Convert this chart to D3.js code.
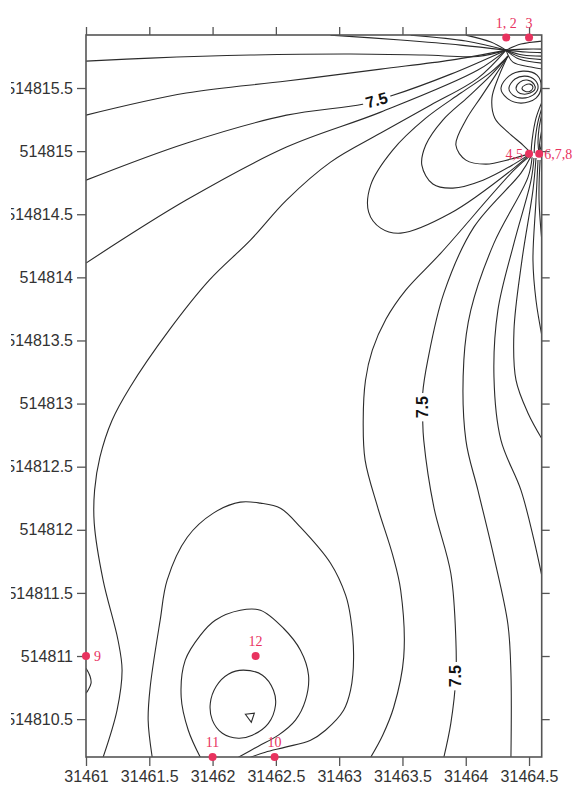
<!DOCTYPE html>
<html><head><meta charset="utf-8">
<script src="https://cdn.jsdelivr.net/npm/d3@7"></script>
<style>html,body{margin:0;background:#fff;}svg{display:block;}</style>
</head><body>
<svg id="chart" width="574" height="785"></svg>
<script>
// ---------- data ----------
const xTicks = [31461, 31461.5, 31462, 31462.5, 31463, 31463.5, 31464, 31464.5];
const yTicks = [514810.5, 514811, 514811.5, 514812, 514812.5, 514813, 514813.5, 514814, 514814.5, 514815, 514815.5];
const xDomain = [31461, 31464.6];
const yDomain = [514810.2, 514815.92];

const wellX = [31464.32, 31464.50, 31464.50, 31464.58, 31461.00, 31462.49, 31462.00, 31462.34];
const wellY = [514815.90, 514815.90, 514814.98, 514814.98, 514811.00, 514810.20, 514810.20, 514811.00];
const wellLabel = ['1, 2', '3', '4,5', '6,7,8', '9', '10', '11', '12'];

const contourLabelX = [31463.296, 31463.660, 31463.922];
const contourLabelY = [514815.404, 514812.971, 514810.840];
const contourLabelText = ['7.5', '7.5', '7.5'];

// open contour lines, north-west fan (towards wells 1,2)
const linesNorthWest = [
 [[31461.000,514815.713],[31461.507,514815.737],[31462.299,514815.761],[31463.090,514815.769],[31463.668,514815.761],[31464.096,514815.750],[31464.318,514815.800]],
 [[31461.000,514815.285],[31461.792,514815.460],[31462.584,514815.555],[31463.328,514815.650],[31463.882,514815.721],[31464.318,514815.800]],
 [[31461.000,514814.770],[31461.792,514815.063],[31462.584,514815.285],[31463.185,514815.372],[31463.407,514815.436],[31463.882,514815.610],[31464.318,514815.800]],
 [[31461.000,514814.113],[31461.792,514814.612],[31462.584,514815.032],[31463.328,514815.309],[31464.096,514815.642],[31464.318,514815.800]],
 [[31461.135,514810.198],[31461.245,514810.570],[31461.285,514810.888],[31461.253,514811.125],[31461.135,514811.601],[31461.065,514812.053],[31461.068,514812.314],[31461.110,514812.575],[31461.206,514812.868],[31461.348,514813.130],[31461.657,514813.582],[31461.974,514813.978],[31462.299,514814.295],[31462.584,514814.612],[31462.932,514814.913],[31463.328,514815.143],[31463.724,514815.365],[31464.096,514815.578],[31464.318,514815.800]],
 [[31462.932,514815.919],[31463.486,514815.880],[31463.961,514815.840],[31464.318,514815.800]],
 [[31463.565,514815.919],[31464.001,514815.872],[31464.318,514815.800]],
 [[31464.001,514815.919],[31464.199,514815.864],[31464.318,514815.800]]
];
// open lines, north-east corner
const linesNorthEast = [
 [[31464.318,514815.800],[31464.436,514815.848],[31464.608,514815.872]],
 [[31464.318,514815.800],[31464.476,514815.808],[31464.608,514815.808]],
 [[31464.318,514815.800],[31464.476,514815.785],[31464.608,514815.780]],
 [[31464.318,514815.800],[31464.452,514815.761],[31464.608,514815.753]],
 [[31464.318,514815.800],[31464.436,514815.745],[31464.608,514815.725]],
 [[31464.318,514815.800],[31464.421,514815.729],[31464.608,514815.697]],
 [[31464.318,514815.800],[31464.373,514815.705],[31464.516,514815.666],[31464.608,514815.650]],
 [[31464.608,514815.404],[31464.555,514815.261],[31464.524,514815.087],[31464.516,514814.984]],
 [[31464.608,514815.360],[31464.570,514815.230],[31464.547,514815.080],[31464.540,514814.984]],
 [[31464.608,514815.325],[31464.579,514815.182],[31464.571,514815.063],[31464.579,514814.984]],
 [[31464.608,514815.206],[31464.587,514815.087],[31464.579,514814.984]],
 [[31464.608,514815.120],[31464.595,514815.040],[31464.579,514814.984]]
];
// loops joining wells 1,2 and wells 4,5
const loopsEast = [
 [[31464.333,514815.753],[31464.262,514815.594],[31464.207,514815.420],[31464.230,514815.261],[31464.333,514815.150],[31464.452,514815.048],[31464.516,514814.984]],
 [[31464.333,514815.753],[31464.230,514815.594],[31464.120,514815.428],[31464.001,514815.246],[31463.922,514815.048],[31464.001,514814.929],[31464.159,514814.897],[31464.357,514814.937],[31464.516,514814.984]],
 [[31464.333,514815.753],[31464.199,514815.602],[31464.017,514815.428],[31463.819,514815.246],[31463.684,514815.048],[31463.653,514814.889],[31463.740,514814.739],[31463.898,514814.707],[31464.136,514814.770],[31464.381,514814.897],[31464.516,514814.984]],
 [[31464.333,514815.753],[31464.199,514815.626],[31463.961,514815.460],[31463.684,514815.261],[31463.423,514815.008],[31463.249,514814.731],[31463.233,514814.517],[31463.328,514814.390],[31463.486,514814.350],[31463.882,514814.509],[31464.381,514814.865],[31464.516,514814.984]]
];
// fan south of wells 4-8
const linesSouthEast = [
 [[31464.516,514814.968],[31464.381,514814.849],[31463.803,514814.192],[31463.526,514813.899],[31463.370,514813.670],[31463.262,514813.423],[31463.208,514813.185],[31463.190,514812.868],[31463.205,514812.552],[31463.304,514812.179],[31463.423,514811.799],[31463.486,514811.521],[31463.510,514810.991],[31463.431,514810.594],[31463.344,514810.373],[31463.249,514810.198]],
 [[31464.516,514814.960],[31464.436,514814.826],[31464.064,514814.398],[31463.827,514813.875],[31463.700,514813.344],[31463.660,514813.082],[31463.660,514812.868],[31463.668,514812.710],[31463.748,514812.179],[31463.882,514811.656],[31463.922,514811.125],[31463.922,514810.832],[31463.882,514810.467],[31463.827,514810.198]],
 [[31464.524,514814.952],[31464.492,514814.794],[31464.223,514814.271],[31464.040,514813.740],[31463.985,514813.344],[31464.001,514812.710],[31464.096,514812.314],[31464.223,514811.783],[31464.333,514811.252],[31464.357,514810.864],[31464.357,514810.198]],
 [[31464.539,514814.945],[31464.516,514814.770],[31464.381,514814.271],[31464.254,514813.740],[31464.223,514813.209],[31464.278,514812.710],[31464.436,514812.314],[31464.539,514811.918],[31464.608,514811.601]],
 [[31464.555,514814.945],[31464.531,514814.691],[31464.444,514814.136],[31464.381,514813.582],[31464.397,514813.185],[31464.492,514812.924],[31464.608,514812.710]],
 [[31464.571,514814.929],[31464.555,514814.612],[31464.531,514814.136],[31464.555,514813.819],[31464.608,514813.502]],
 [[31464.587,514814.929],[31464.579,514814.612],[31464.608,514814.216]]
];
// loops around wells 10-12 and the bump at well 9
const linesSouthWest = [
 [[31461.523,514810.198],[31461.491,514810.492],[31461.507,514810.753],[31461.586,514811.284],[31461.641,514811.601],[31461.800,514811.941],[31462.006,514812.132],[31462.219,514812.219],[31462.378,514812.211],[31462.536,514812.171],[31462.694,514812.021],[31462.932,514811.735],[31463.051,514811.482],[31463.090,514811.307],[31463.114,514810.991],[31463.090,514810.729],[31463.035,514810.570],[31462.892,514810.412],[31462.774,514810.333],[31462.576,514810.278],[31462.417,514810.238],[31462.299,514810.198]],
 [[31461.903,514810.198],[31461.808,514810.412],[31461.752,514810.673],[31461.784,514810.967],[31461.903,514811.164],[31462.021,514811.284],[31462.219,514811.363],[31462.378,514811.363],[31462.560,514811.220],[31462.694,514811.046],[31462.758,514810.848],[31462.734,514810.650],[31462.655,514810.492],[31462.520,514810.373],[31462.362,514810.286],[31462.204,514810.198]],
 [[31461.000,514810.903],[31461.032,514810.840],[31461.040,514810.785],[31461.016,514810.729],[31461.000,514810.705]]
];
// closed contours
const closedSmooth = [
 [[31464.278,514815.499],[31464.341,514815.594],[31464.452,514815.634],[31464.563,514815.602],[31464.595,514815.507],[31464.555,514815.420],[31464.436,514815.380],[31464.326,514815.420]],
 [[31464.341,514815.499],[31464.389,514815.571],[31464.468,514815.594],[31464.547,514815.563],[31464.571,514815.499],[31464.531,514815.444],[31464.444,514815.420],[31464.373,514815.444]],
 [[31464.397,514815.499],[31464.428,514815.547],[31464.484,514815.563],[31464.539,514815.531],[31464.547,514815.491],[31464.508,514815.460],[31464.452,514815.452],[31464.413,514815.468]],
 [[31464.444,514815.499],[31464.468,514815.523],[31464.508,514815.531],[31464.531,514815.507],[31464.508,514815.475],[31464.468,514815.475]],
 [[31462.243,514810.888],[31462.394,514810.848],[31462.481,514810.729],[31462.497,514810.610],[31462.441,514810.467],[31462.314,514810.373],[31462.204,514810.349],[31462.077,514810.388],[31461.998,514810.492],[31461.982,514810.626],[31462.029,514810.761],[31462.124,514810.856]]
];
const closedSharp = [
 [[31462.259,514810.539],[31462.330,514810.547],[31462.306,514810.475]]
];

// ---------- styling ----------
const wellLabelPlace = ['top','top','left','right','right','top','top','top'];
const contourLabelAngle = [-16, -90, -90];
const RED = '#e8335f';

// ---------- drawing ----------
const svg = d3.select('#chart');
const L = 86, R = 541.7, T = 35, B = 757;
const x = d3.scaleLinear().domain(xDomain).range([L, R]);
const y = d3.scaleLinear().domain(yDomain).range([B, T]);

const defs = svg.append('defs');
defs.append('clipPath').attr('id','plot')
  .append('rect').attr('x',L).attr('y',T).attr('width',R-L).attr('height',B-T);
defs.append('clipPath').attr('id','leftcut')
  .append('rect').attr('x',11).attr('y',0).attr('width',574).attr('height',785);

const cont = svg.append('g').attr('clip-path','url(#plot)')
  .attr('fill','none').attr('stroke','#2b2b2b').attr('stroke-width',1.1);

const openLine = d3.line().x(d=>x(d[0])).y(d=>y(d[1])).curve(d3.curveCatmullRom.alpha(0.5));
const closedLine = d3.line().x(d=>x(d[0])).y(d=>y(d[1])).curve(d3.curveCatmullRomClosed.alpha(0.5));
const sharpLine = d3.line().x(d=>x(d[0])).y(d=>y(d[1])).curve(d3.curveLinearClosed);

[linesNorthWest, linesNorthEast, loopsEast, linesSouthEast, linesSouthWest].forEach(set =>
  cont.selectAll(null).data(set).enter().append('path').attr('d', openLine));
cont.selectAll(null).data(closedSmooth).enter().append('path').attr('d', closedLine);
cont.selectAll(null).data(closedSharp).enter().append('path').attr('d', sharpLine);

// contour labels with gaps
contourLabelText.forEach((t,i) => {
  const g = svg.append('g')
    .attr('transform', `translate(${x(contourLabelX[i])},${y(contourLabelY[i])}) rotate(${contourLabelAngle[i]})`);
  const tx = g.append('text').attr('text-anchor','middle').attr('dy','0.35em')
    .attr('font-family','Liberation Sans, Arial, sans-serif').attr('font-weight','bold')
    .attr('font-size',16).attr('fill','#111').text(t);
  const bb = tx.node().getBBox();
  g.insert('rect','text').attr('x',bb.x-3).attr('y',bb.y+1).attr('width',bb.width+6).attr('height',bb.height-2).attr('fill','#fff');
});

// axes
const axisStyle = g => {
  g.select('.domain').remove();
  g.selectAll('.tick line').attr('stroke','#555').attr('stroke-width',1.3);
  g.selectAll('.tick text').attr('fill','#333').attr('font-size',16)
    .attr('font-family','Liberation Sans, Arial, sans-serif');
};
svg.append('g').attr('transform',`translate(0,${B})`)
  .call(d3.axisBottom(x).tickValues(xTicks).tickFormat(d=>String(d)).tickSize(9).tickPadding(5).tickSizeOuter(0))
  .call(axisStyle);
svg.append('g').attr('clip-path','url(#leftcut)')
  .append('g').attr('transform',`translate(${L},0)`)
  .call(d3.axisLeft(y).tickValues(yTicks).tickFormat(d=>String(d)).tickSize(9).tickPadding(4).tickSizeOuter(0))
  .call(axisStyle);
svg.append('g').attr('transform',`translate(0,${T})`)
  .call(d3.axisTop(x).tickValues(xTicks).tickFormat('').tickSize(8).tickSizeOuter(0)).call(axisStyle);
svg.append('g').attr('transform',`translate(${R},0)`)
  .call(d3.axisRight(y).tickValues(yTicks).tickFormat('').tickSize(8).tickSizeOuter(0)).call(axisStyle);

// frame
svg.append('rect').attr('x',L).attr('y',T).attr('width',R-L).attr('height',B-T)
  .attr('fill','none').attr('stroke','#555').attr('stroke-width',1.6);

// wells
const wells = wellX.map((wx,i)=>({x:wx, y:wellY[i], label:wellLabel[i], place:wellLabelPlace[i]}));
svg.selectAll('circle.well').data(wells).enter().append('circle').attr('class','well')
  .attr('cx',d=>x(d.x)).attr('cy',d=>y(d.y)).attr('r',4).attr('fill',RED);
svg.selectAll('text.wl').data(wells).enter().append('text').attr('class','wl')
  .attr('font-family','Liberation Serif, Times New Roman, serif').attr('font-size',14).attr('fill',RED)
  .attr('text-anchor',d=>d.place==='top'?'middle':(d.place==='left'?'end':'start'))
  .attr('x',d=>x(d.x)+(d.place==='left'?-6:(d.place==='right'?(d.label==='9'?8:5):0)))
  .attr('y',d=>y(d.y)+(d.place==='top'?-10:5))
  .text(d=>d.label);
</script>
</body></html>
